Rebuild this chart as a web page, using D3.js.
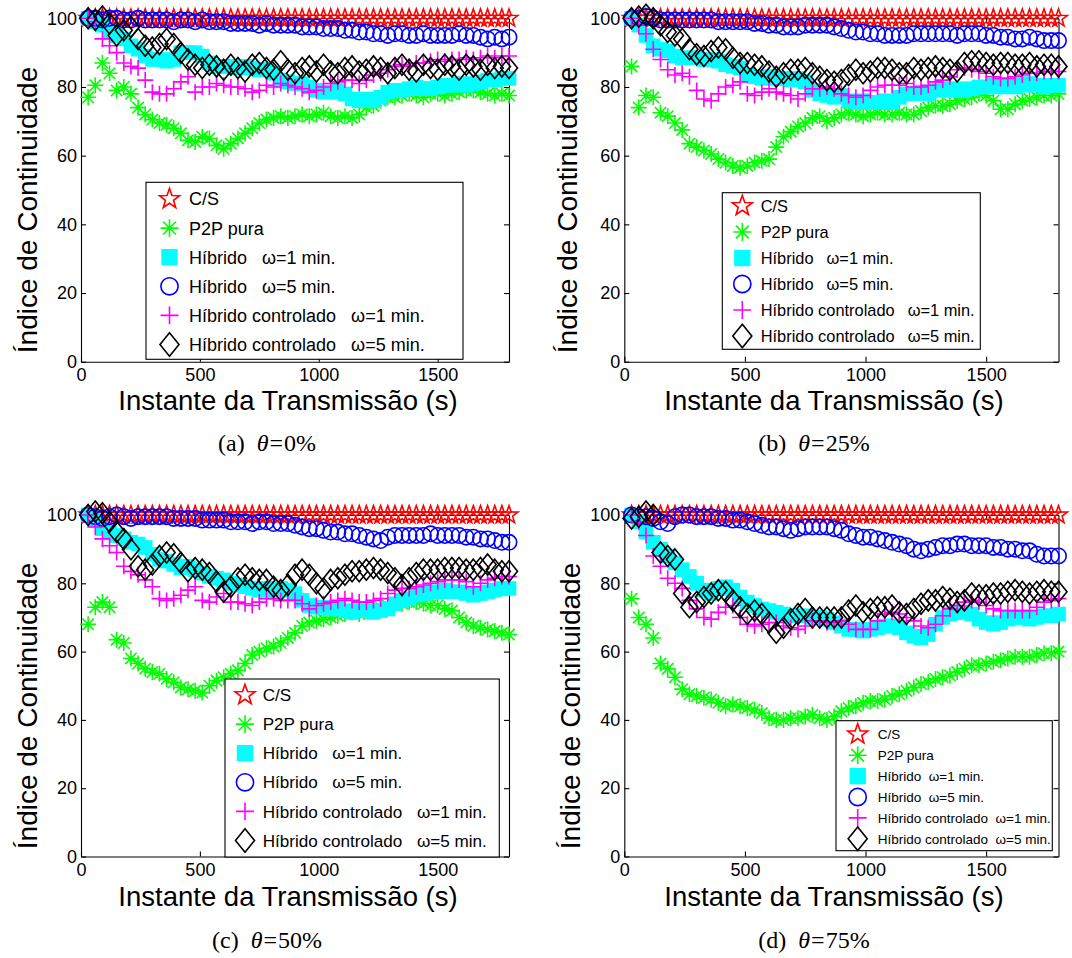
<!DOCTYPE html>
<html><head><meta charset="utf-8">
<script src="https://cdn.jsdelivr.net/npm/d3@7"></script>
<style>body{margin:0;background:#fff}svg{display:block}</style>
</head><body>
<svg id="chart" width="1072" height="958"></svg>
<script>
// ---------- DATA ----------
const times = [30,60,90,120,150,180,210,240,270,300,330,360,390,420,450,480,510,540,570,600,
630,660,690,720,750,780,810,840,870,900,930,960,990,1020,1050,1080,1110,1140,1170,1200,
1230,1260,1290,1320,1350,1380,1410,1440,1470,1500,1530,1560,1590,1620,1650,1680,1710,1740,1770,1800];
const xTicks = [0,500,1000,1500];
const yTicks = [0,20,40,60,80,100];
const seriesNames = ["C/S","P2P pura","Híbrido","Híbrido","Híbrido controlado","Híbrido controlado"];
const seriesSuffix = ["","","ω=1 min.","ω=5 min.","ω=1 min.","ω=5 min."];
const captions = ["(a)","(b)","(c)","(d)"];
const thetas = ["0%","25%","50%","75%"];

const clientServer = [100,100,100,100,100,100,100,100,100,100,100,100,100,100,100,100,100,100,100,100,
100,100,100,100,100,100,100,100,100,100,100,100,100,100,100,100,100,100,100,100,
100,100,100,100,100,100,100,100,100,100,100,100,100,100,100,100,100,100,100,100];

// (a) theta = 0%
const p2pA = [77,80.5,87,84,79,80,78,74,72,70.5,69.5,69,68,66.5,64.5,64,65.5,65,63,62,
63.5,65,66.5,68,69.5,70.5,71,71.5,71,71.5,72,71.5,72,72.5,71.5,71,71.5,71,72,74,
74.5,76,77,77,77.5,78,77.5,77,78,78,77.5,78,78.5,79,79,78.5,78,77.5,78,77.5];
const hib1A = [100,99,98,96,95,94,92,91,89,88,88,87.5,88,90,90,90,89,87,86,86,
86,85.5,86,85.5,85,85,84,82,81.5,81,81,80,79,78.5,78.5,79,78,76.5,76,76.5,
76,77,78.5,79,79,79.5,80,79.5,79.5,80,80.5,80.5,81,80.5,81,81.5,82,82,82.5,82.5];
const hib5A = [100,100,99.5,100,100,99.5,99.5,100,99.5,99.5,99.5,99.5,99,99.5,99.5,99,99.5,99,99,99,
98.5,98.5,98.5,98.5,98,98.5,98,98,98,98,97.5,97.5,97.5,97,97,97,96.5,96.5,96,96,
95.5,95.5,95,95.5,95.5,95,95,95.5,95,95,95,95,95.5,95,95,94.5,94,94.5,94,94.5];
const ctl1A = [100,99,94,92,90,87,86,85.5,82,78.5,78,78,79.5,81.5,83,78.5,80,80,81,80.5,
80,80,79.5,78.5,79,80.5,80,81,80.5,80,79.5,78.5,79,80,81,81.5,82,82,81,82,
83.5,84,85,86,86.5,86,87,87,87.5,88,87.5,88,88,88.5,88,88.5,89,88.5,89,89];
const ctl5A = [100,99.5,100.5,98.5,95,96.5,97.5,94,92,91.5,92.5,94,92.5,90,88,86.5,85.5,86.5,86,85,
86.5,85.5,84.5,86.5,87,85.5,85,87.5,85,84,85.5,86,84.5,86.5,84.5,84,85.5,86,84.5,85,
86,85.5,84,85.5,86.5,85,84.5,86.5,85.5,85,86.5,86,85,86.5,86,85,86.5,85.5,86,85.5];

// (b) theta = 25%
const p2pB = [86,74,77.5,77,72.5,71.5,69.5,67.5,63.5,62.5,61.5,60.5,59,58,57,56.5,57,58,58.5,59,
62.5,65.5,67,68.5,69.5,71,71.5,70,71,72,72.5,72,71.5,72,72.5,72,72,72.5,72,72,
73,74,74.5,74.5,75,76,76.5,77,78,77.5,76,73.5,73.5,75,76,76.5,77,77.5,77.5,78];
const hib1B = [100,98,95,92,91,90.5,89,88.5,88.5,88.5,88,88,87.5,86.5,86,85.5,83.5,83,82.5,83,
82.5,82.5,82,82.5,81.5,79,78,77.5,77,77.5,76,75.5,76,75.5,75.5,76,75.5,77,78,78,
78.5,78,79,79.5,79,79.5,79,79.5,80,80,80.5,80,80.5,80,80.5,81,80.5,80,80.5,80.5];
const hib5B = [100,100,100.5,100,99.5,99.5,99.5,99.5,99.5,99.5,99.5,99.5,99,99,99,99,99,98.5,98.5,98,
98,97.5,97.5,97.5,98,98,98,98,97.5,97,96.5,96,96,95.5,95.5,95,95,95,95,95.5,
95.5,95.5,95.5,95.5,95.5,95,95.5,95.5,95.5,95,95,94.5,94.5,94,94,94.5,94,93.5,93.5,93.5];
const ctl1B = [100,98,95.5,91,88,85,83.5,84,83,79,76.5,76,78,80,80.5,81.5,78,77.5,78.5,79.5,
78.5,78,77.5,76.5,78,79.5,79.5,80,79.5,78,77.5,77,77.5,79,80,80.5,80.5,80.5,81,80,
80,80.5,81.5,82,83,85,85.5,85,84.5,84,83,82.5,82.5,83,83.5,84,84,84.5,84.5,84.5];
const ctl5B = [100,100.5,101,100,98,96,95,94,91,89.5,89,90.5,91.5,91,88.5,87,87,86.5,86,84.5,
83,84,85,85,85.5,84,83,82,81.5,82,83.5,85,84,84.5,85.5,85.5,85,84,84,85.5,
85,85.5,86,85.5,85,84.5,87,87.5,87.5,87,86.5,87,87,86.5,86.5,87,86,86.5,86.5,86];

// (c) theta = 50%
const p2pC = [68,73,74.5,73,63.5,62.5,58,56.5,55,54,53.5,52,51,49.5,49,48.5,48,50,51.5,52.5,
53.5,54.5,56.5,59,60,61,61.5,62.5,64,65.5,67.5,68.5,69,69.5,70,70.5,71,71.5,71,72,
72.5,73,73.5,74,74,74.5,74.5,74,73.5,73.5,72.5,72,70,68.5,67.5,67,66.5,66,65.5,65];
const hib1C = [100,98.5,96,95,94,93,92,91.5,90.5,88.5,87,86.5,85.5,84.5,85,84,83,82,81.5,81,
80,79.5,79,78.5,78,78.5,78,78.5,78,77,75,73.5,73,73,72.5,73,72,71.5,72,72,
71.5,72,72.5,74,75,75.5,76.5,77,77.5,77.5,78,77.5,77.5,77,76.5,77,77.5,78,78.5,78.5];
const hib5C = [100,99.5,99,99.5,100,99.5,99,99.5,99.5,99.5,99.5,99.5,99,99,99,99,98.5,98.5,98.5,98.5,
98,98,98,97.5,98,98,97.5,97.5,97.5,97,96.5,96,96,95.5,95,95,94.5,94.5,94,93.5,
93,92.5,93.5,94,94,94,94,94,94.5,94,94,94,94,93.5,93.5,93,93,92.5,92,92];
const ctl1C = [100,96.5,93,91,89,85,83.5,82.5,81,79,75.5,75,75.5,76.5,78,79,75,74.5,76,77,
74.5,74.5,74,73.5,74.5,75.5,75.5,75,75,75,74,72.5,73.5,74,74.5,75,75.5,75,74.5,74.5,
75,75.5,77,78,78.5,78.5,79,79.5,80,80.5,81,81,81,80.5,79,80,81,81.5,82,82];
const ctl5C = [100,101,100.5,98,95,93,90,85,84,85.5,88,89,88.5,86,83.5,84.5,84,83,80.5,77.5,
79,81.5,82.5,81.5,81,81,79,78,79.5,82.5,84,82.5,80,78.5,81,81.5,82.5,83.5,83.5,84,
84.5,84,83,81.5,79.5,81.5,83,84,84,84,84.5,84.5,84.5,84,84,84.5,85.5,84,83.5,83.5];

// (d) theta = 75%
const p2pD = [75.5,70,68,64,56.5,55,52.5,49,47.5,47,46.5,46,45,44,44.5,44,43.5,43,42,40.5,
40,40,40.5,40.5,41,41.5,40.5,40,41,42.5,43.5,44,45,45.5,45.5,46,47,47.5,48.5,49.5,
50.5,51,52,52.5,53,54,55,56,56,56.5,57,57.5,58,58.5,58.5,58.5,59,59.5,59.5,60];
const hib1D = [100,98,95,92,90,88,86,84,82,80,78,77,78.5,79,78,76,74.5,73.5,72.5,72,
71.5,71,70.5,70.5,70.5,70,70,69.5,68.5,67.5,66.5,66.5,66,66.5,67,67.5,67.5,67,65.5,64.5,
64,65,68,70,71,71.5,71.5,71,69.5,68.5,68,68.5,69.5,70,70,69.5,70,70.5,70.5,71];
const hib5D = [100,99.5,99.5,99,98,97.5,99.5,100,100,99.5,99.5,99.5,99,99,98.5,98.5,98,97.5,97,96.5,
96.5,96,95.5,96,96.5,96.5,96.5,96.5,96,95.5,94.5,94,93.5,93.5,93,92.5,92,91.5,91,90,
89.5,90,90.5,91,91,91.5,91.5,91,91,91,90.5,90.5,90,90,89.5,89.5,88.5,88,88,88];
const ctl1D = [100,98,94,88,85,81.5,80,78.5,75,72.5,70,69.5,71.5,73,73.5,70,68,67.5,68,68.5,
68.5,67.5,67,66.5,67.5,69,69,68.5,68.5,69,68,66.5,66.5,66.5,69,71,71.5,71,70,69,
67.5,67,68,70.5,72.5,73.5,74.5,75,74.5,73.5,72.5,72,72,72,72,72,73,74.5,75,75.5];
const ctl5D = [99,99.5,101,100,89,88,87,77,73,74.5,76,77,78,77.5,75,73,71,72,71,68.5,
65.5,67,69.5,71,72.5,70,70,70,70,70,72,73.5,71.5,72.5,73,73,73.5,71.5,71,72.5,
74,75,75,76,75.5,74.5,75,77,76.5,76.5,77,77,77.5,78,77.5,77,77.5,78,77.5,77.5];

const panelData = [
  [clientServer, p2pA, hib1A, hib5A, ctl1A, ctl5A],
  [clientServer, p2pB, hib1B, hib5B, ctl1B, ctl5B],
  [clientServer, p2pC, hib1C, hib5C, ctl1C, ctl5C],
  [clientServer, p2pD, hib1D, hib5D, ctl1D, ctl5D]
];

// ---------- STYLE / LAYOUT ----------
const styles = [
  {type:"star", color:"#ff0000"},
  {type:"asterisk", color:"#00ff00"},
  {type:"square", color:"#00ffff"},
  {type:"circle", color:"#0000ff"},
  {type:"plus", color:"#ff00ff"},
  {type:"diamond", color:"#000000"}
];
function markerPath(type, k){
  k = k || 1;
  const f = v => (v*k).toFixed(2);
  switch(type){
    case "star": {
      const pts=[]; const R=9.4*k, r=3.8*k;
      for(let i=0;i<10;i++){const a=-Math.PI/2+i*Math.PI/5; const rr=i%2?r:R; pts.push([rr*Math.cos(a), rr*Math.sin(a)]);}
      return "M"+pts.map(p=>p[0].toFixed(2)+","+p[1].toFixed(2)).join("L")+"Z";
    }
    case "asterisk": return `M${f(-8)},0H${f(8)}M0,${f(-8)}V${f(8)}M${f(-5.7)},${f(-5.7)}L${f(5.7)},${f(5.7)}M${f(-5.7)},${f(5.7)}L${f(5.7)},${f(-5.7)}`;
    case "square": return `M${f(-7.3)},${f(-7.3)}H${f(7.3)}V${f(7.3)}H${f(-7.3)}Z`;
    case "circle": return `M${f(7.7)},0A${f(7.7)},${f(7.7)} 0 1,1 ${f(-7.7)},0A${f(7.7)},${f(7.7)} 0 1,1 ${f(7.7)},0Z`;
    case "plus": return `M${f(-8)},0H${f(8)}M0,${f(-8)}V${f(8)}`;
    case "diamond": return `M0,${f(-10.5)}L${f(8.5)},0L0,${f(10.5)}L${f(-8.5)},0Z`;
  }
}
function styleMarker(sel, st){
  if(st.type==="square") sel.attr("fill", st.color).attr("stroke","none");
  else sel.attr("fill","none").attr("stroke", st.color).attr("stroke-width",1.6);
}

const layouts = [
  {l:81, r:509, t:18.3, b:361.7, ylabX:37, ylabY:210, xlabX:288, xlabY:410, capX:267, capY:451,
   leg:{x0:146,x1:463,y0:182.3,y1:359.3,row0:199,dy:29.1,mx:169.5,tx:189,fs:18,gap:15}},
  {l:624.3, r:1058.5, t:18.3, b:361.7, ylabX:577, ylabY:210, xlabX:834, xlabY:410, capX:814, capY:451,
   leg:{x0:722.3,x1:980.3,y0:192.7,y1:349.3,row0:206,dy:26,mx:742.3,tx:760.7,fs:16.4,gap:13}},
  {l:81, r:509, t:515, b:856.5, ylabX:37, ylabY:706, xlabX:288, xlabY:906, capX:267, capY:948,
   leg:{x0:225,x1:499.3,y0:679,y1:857,row0:695,dy:29.1,mx:245,tx:262.7,fs:17.1,gap:14.5}},
  {l:624.3, r:1058.5, t:515, b:856.5, ylabX:580, ylabY:706, xlabX:834, xlabY:906, capX:814, capY:948,
   leg:{x0:836,x1:1052.3,y0:720.7,y1:850.7,row0:734.3,dy:20.9,mx:857.7,tx:877.7,fs:13.5,gap:7.5}}
];

const svg = d3.select("#chart");
const sans = "'Liberation Sans', Arial, Helvetica, sans-serif";

layouts.forEach((L, pi) => {
  const x = d3.scaleLinear().domain([0,1800]).range([L.l, L.r]);
  const y = d3.scaleLinear().domain([0,100]).range([L.b, L.t]);
  const g = svg.append("g");

  // axes (ticks pointing inward, box on)
  const axL = g.append("g").attr("transform",`translate(${L.l},0)`)
    .call(d3.axisLeft(y).tickValues(yTicks).tickFormat(d3.format("d")).tickSize(-5).tickSizeOuter(0).tickPadding(4));
  const axB = g.append("g").attr("transform",`translate(0,${L.b})`)
    .call(d3.axisBottom(x).tickValues(xTicks).tickFormat(d3.format("d")).tickSize(-5).tickSizeOuter(0).tickPadding(6.5));
  const axR = g.append("g").attr("transform",`translate(${L.r},0)`)
    .call(d3.axisRight(y).tickValues(yTicks).tickSize(-5).tickSizeOuter(0).tickFormat(""));
  const axT = g.append("g").attr("transform",`translate(0,${L.t})`)
    .call(d3.axisTop(x).tickValues(xTicks).tickSize(-5).tickSizeOuter(0).tickFormat(""));
  [axL,axB,axR,axT].forEach(a=>{
    a.selectAll("path,line").attr("stroke","#000").attr("stroke-width",1.1);
    a.selectAll("text").attr("font-family",sans).attr("font-size",18).attr("fill","#000");
  });

  // series markers
  const data = panelData[pi];
  data.forEach((vals, si) => {
    const st = styles[si];
    const sg = g.append("g");
    const m = sg.selectAll("path").data(vals.map((v,i)=>[times[i], v])).join("path")
      .attr("d", markerPath(st.type))
      .attr("transform", d => `translate(${x(d[0])},${y(d[1])})`);
    styleMarker(m, st);
  });

  // axis labels
  g.append("text").attr("x",L.xlabX).attr("y",L.xlabY).attr("text-anchor","middle")
    .attr("font-family",sans).attr("font-size",27.5).text("Instante da Transmissão (s)");
  g.append("text").attr("transform",`translate(${L.ylabX},${L.ylabY}) rotate(-90)`)
    .attr("text-anchor","middle").attr("font-family",sans).attr("font-size",28).text("Índice de Continuidade");

  // legend
  const lg = L.leg;
  const leg = g.append("g");
  leg.append("rect").attr("x",lg.x0).attr("y",lg.y0).attr("width",lg.x1-lg.x0).attr("height",lg.y1-lg.y0)
    .attr("fill","#fff").attr("stroke","#000").attr("stroke-width",1.1);
  styles.forEach((st, si) => {
    const ry = lg.row0 + si*lg.dy;
    const mk = leg.append("path").attr("d", markerPath(st.type, 1.12)).attr("transform",`translate(${lg.mx},${ry})`);
    styleMarker(mk, st);
    const t = leg.append("text").attr("x",lg.tx).attr("y",ry).attr("dy","0.36em")
      .attr("font-family",sans).attr("font-size",lg.fs).attr("fill","#000");
    t.append("tspan").text(seriesNames[si]);
    if(seriesSuffix[si]) t.append("tspan").attr("dx",lg.gap).text(seriesSuffix[si]);
  });

  // caption
  const cap = svg.append("text").attr("x",L.capX).attr("y",L.capY).attr("text-anchor","middle")
    .attr("font-family","'Liberation Serif','Times New Roman',serif").attr("font-size",24).attr("fill","#000");
  cap.append("tspan").text(captions[pi]);
  cap.append("tspan").attr("dx",12).attr("font-style","italic").text("θ");
  cap.append("tspan").attr("dx",1).text("=");
  cap.append("tspan").attr("dx",1).text(thetas[pi]);
});
</script>
</body></html>
